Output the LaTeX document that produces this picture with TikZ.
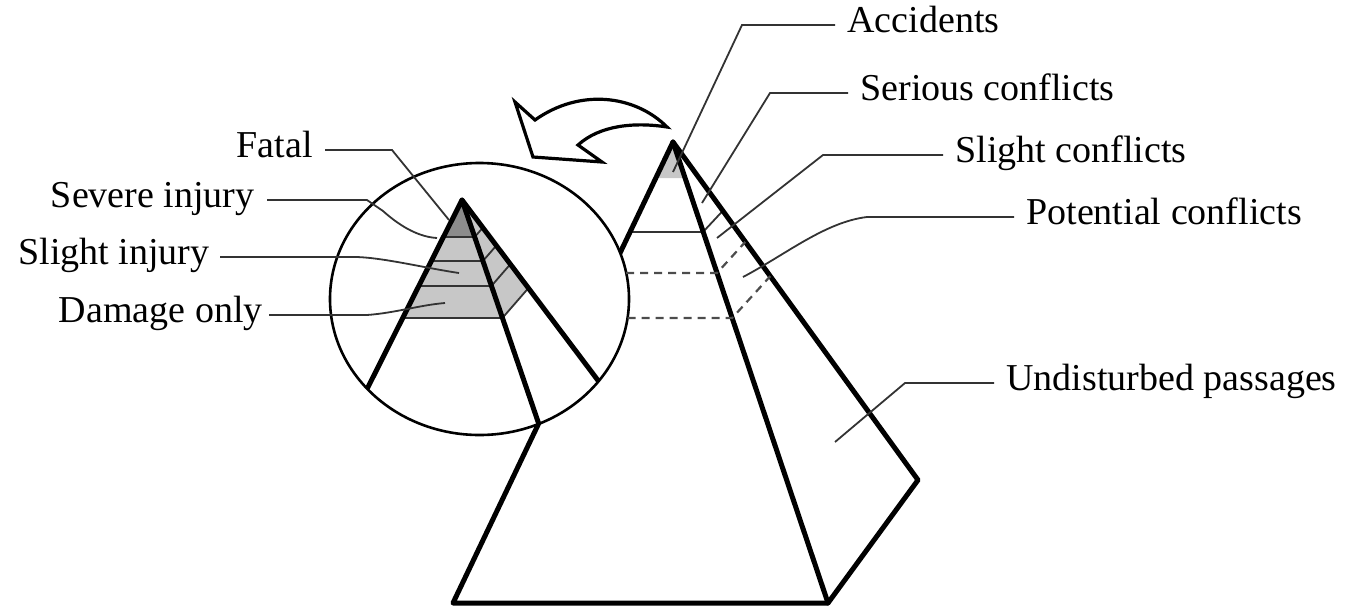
\documentclass[tikz,border=0pt]{standalone}
\usepackage{fontspec}
\setmainfont{Liberation Serif}
\begin{document}
\begin{tikzpicture}[x=0.5pt,y=-0.5pt,
  edge/.style={line width=2.5pt, line cap=round, line join=round},
  bandline/.style={line width=0.9pt, draw=black!80},
  leader/.style={line width=0.9pt, draw=black!80},
  dashline/.style={line width=1.1pt, draw=black!70, dash pattern=on 4pt off 3pt},
  lbl/.style={inner sep=0pt, text height=0.7em, text depth=0pt, font=\fontsize{19pt}{22pt}\selectfont},
  darkband/.style={fill=black!45},
  lightband/.style={fill=black!22},
  arrowshape/.style={line width=1.6pt, fill=white, line join=miter},
]
\useasboundingbox (0,0) rectangle (1356,606);

% ---------- big pyramid ----------
\coordinate (A) at (673,142);
\coordinate (BL) at (453,603);
\coordinate (BR) at (828,603);
\coordinate (BB) at (918,480);
\fill[black!22] (A) -- (656,178) -- (685,178) -- cycle;
% bands on big pyramid
\draw[bandline] (630,232) -- (703,232) -- (723,210.6);
\draw[edge] (A) -- (BL) -- (BR) -- (BB) -- cycle;
\draw[edge] (A) -- (BR);

% ---------- right labels ----------
\node[lbl, anchor=west] (acc) at (847,25) {Accidents};
\node[lbl, anchor=west] (ser) at (860,93) {Serious conflicts};
\node[lbl, anchor=west] (sli) at (955,155) {Slight conflicts};
\node[lbl, anchor=west] (pot) at (1026,217) {Potential conflicts};
\node[lbl, anchor=west] (und) at (1006,383) {Undisturbed passages};
\coordinate (accE) at (673,172);
\coordinate (serE) at (702,203);
\coordinate (sliE) at (717,238);
\coordinate (potE) at (743,277);
\coordinate (undE) at (835,442);
\draw[leader] ([xshift=-6pt]acc.west) -- (742,25) -- (accE);
\draw[leader] ([xshift=-6pt]ser.west) -- (770,93) -- (serE);
\draw[leader] ([xshift=-6pt]sli.west) -- (823,155) -- (sliE);
\draw[leader] ([xshift=-6pt]pot.west) -- (867,217) .. controls (825,222) and (785,255) .. (potE);
\draw[leader] ([xshift=-6pt]und.west) -- (905,383) -- (undE);

% ---------- magnifying circle ----------
\coordinate (C) at (479.5,299);
\draw[line width=1.3pt, fill=white] (C) ellipse [x radius=74.75pt, y radius=68pt];

% dashed lines (hidden bands)
\draw[dashline] (626.2,273) -- (717,273) -- (745.3,241.9);
\draw[dashline] (627.5,318) -- (732.2,318) -- (770.3,276.1);

% ---------- small pyramid ----------
\coordinate (a) at (462,200);
\begin{scope}
\clip (C) ellipse [x radius=74.75pt, y radius=68pt];
\fill[lightband] (a) -- (528.5,288) -- (502.4,318) -- cycle;
\fill[lightband] (443.4,237) -- (474.7,237) -- (502.4,318) -- (402.7,318) -- cycle;
\fill[darkband] (a) -- (443.4,237) -- (474.7,237) -- cycle;
\draw[bandline] (443.4,237) -- (474.7,237) -- (482.9,227.6);
\draw[bandline] (431.3,261) -- (482.9,261) -- (496.4,245.5);
\draw[bandline] (418.8,286) -- (491.4,286) -- (510.4,264.1);
\draw[bandline] (402.7,318) -- (502.4,318) -- (528.5,288);
\draw[edge] (358,407) -- (a) -- (545,442);
\draw[edge] (a) -- (612,399);
\end{scope}

% ---------- left labels ----------
\node[lbl, anchor=east] (fat) at (313,150) {Fatal};
\node[lbl, anchor=east] (sev) at (255,200) {Severe injury};
\node[lbl, anchor=east] (sinj) at (210,257) {Slight injury};
\node[lbl, anchor=east] (dam) at (263,315) {Damage only};
\coordinate (fatE) at (449,220);
\coordinate (sevE) at (437,238);
\coordinate (sinjE) at (459,273);
\coordinate (damE) at (445,303);
\draw[leader] ([xshift=6pt]fat.east) -- (392,150) -- (fatE);
\draw[leader] ([xshift=6pt]sev.east) -- (367,200) -- (383,211) .. controls (402,228) and (420,237) .. (sevE);
\draw[leader] ([xshift=5pt]sinj.east) -- (357,257) .. controls (385,258) and (425,268) .. (sinjE);
\draw[leader] ([xshift=3pt]dam.east) -- (367,315) .. controls (395,313) and (420,305) .. (damE);

% ---------- curved arrow ----------
\draw[arrowshape] (667,127) .. controls (635,95) and (580,88) .. (535,120)
  -- (515,102) -- (533,157) -- (602,162) -- (578,145)
  .. controls (600,125) and (635,122) .. cycle;
\end{tikzpicture}
\end{document}
